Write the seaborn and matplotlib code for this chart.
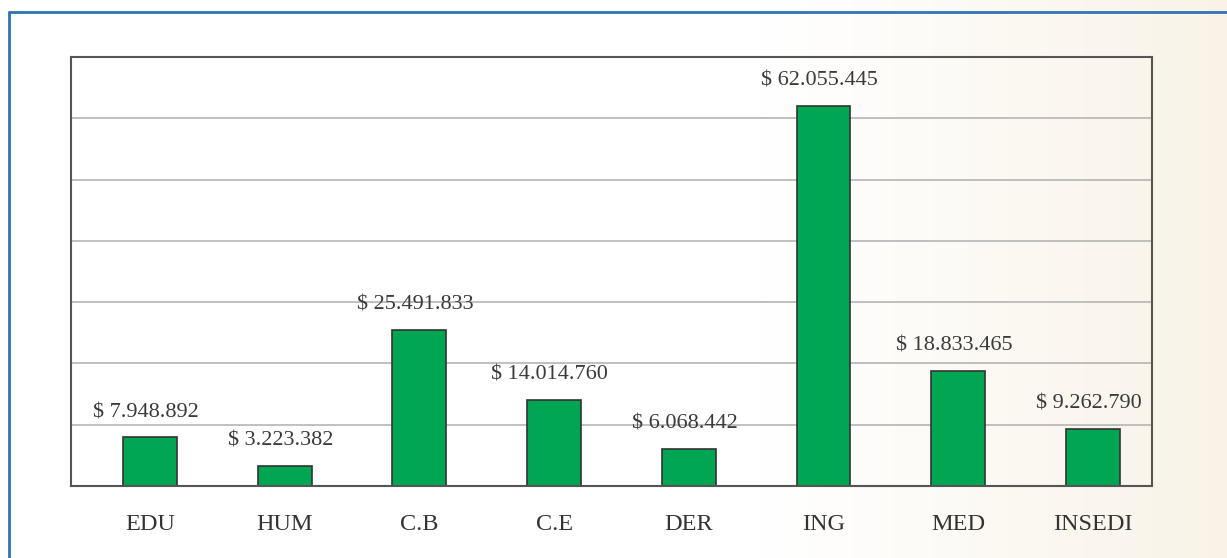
import numpy as np
import pandas as pd
import matplotlib
matplotlib.use("Agg")
import matplotlib.pyplot as plt
import seaborn as sns

categories = ["EDU", "HUM", "C.B", "C.E", "DER", "ING", "MED", "INSEDI"]
values = [7948892, 3223382, 25491833, 14014760, 6068442, 62055445, 18833465, 9262790]
labels = ["$ 7.948.892", "$ 3.223.382", "$ 25.491.833", "$ 14.014.760",
          "$ 6.068.442", "$ 62.055.445", "$ 18.833.465", "$ 9.262.790"]

df = pd.DataFrame({"cat": categories, "val": values})

sns.set_style("white")
plt.rcParams["font.family"] = ["Liberation Serif", "DejaVu Serif"]

fig = plt.figure(figsize=(12.27, 5.58), dpi=100)

# background: white fading into beige on the right
bg = fig.add_axes([0, 0, 1, 1], zorder=0)
xs = np.linspace(0, 1, 400)
t = np.clip((xs - 0.62) / 0.38, 0, 1) ** 1.1
white = np.array([1.0, 1.0, 1.0])
beige = np.array([249, 243, 231]) / 255
grad = white[None, :] * (1 - t[:, None]) + beige[None, :] * t[:, None]
bg.imshow(grad[None, :, :], aspect="auto", extent=[0, 1, 0, 1])
bg.plot([0.0075, 0.0075], [0, 0.978], color="#2E75B6", lw=2)
bg.plot([0.0075, 1], [0.978, 0.978], color="#2E75B6", lw=2)
bg.set_xlim(0, 1)
bg.set_ylim(0, 1)
bg.axis("off")

ax = fig.add_axes([0.0579, 0.129, 0.881, 0.769], zorder=1)
ax.patch.set_alpha(0)
sns.barplot(data=df, x="cat", y="val", color="#00A651", saturation=1,
            width=0.4, edgecolor="#333333", linewidth=1.2, ax=ax)

ax.set_ylim(0, 70000000)
ax.set_xlim(-0.587, 7.44)
ax.set_yticks(np.arange(0, 70000001, 10000000))
ax.yaxis.grid(True, color="#B5B5B5", lw=1.2)
ax.set_axisbelow(True)
ax.set_yticklabels([])
ax.tick_params(axis="y", length=0)
ax.tick_params(axis="x", length=0, pad=20, labelsize=17.5, labelcolor="#333333")
ax.set_xlabel("")
ax.set_ylabel("")
for s in ax.spines.values():
    s.set_visible(True)
    s.set_color("#555555")
    s.set_linewidth(1.5)

for i, (v, lab) in enumerate(zip(values, labels)):
    ax.annotate(lab, (i, v), xytext=(-3, 11), textcoords="offset points",
                ha="center", va="bottom", fontsize=16, color="#3a3a3a")

fig.savefig("out.png", dpi=100)
